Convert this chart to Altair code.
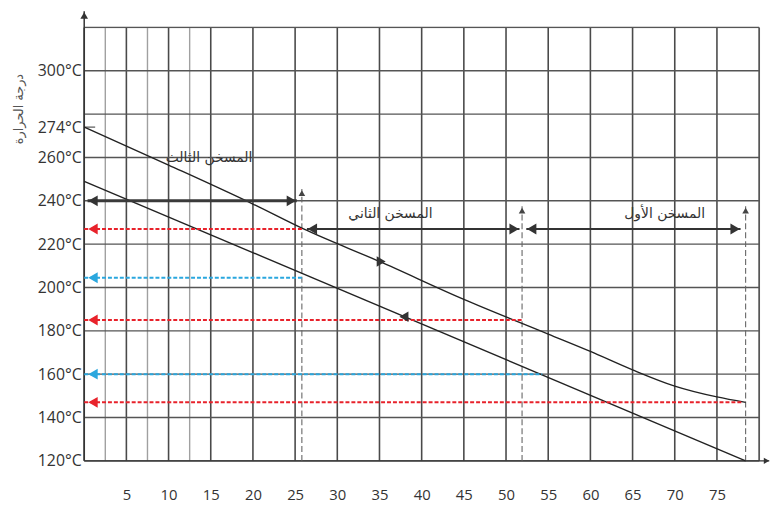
import altair as alt
import pandas as pd

# ---------------- data ----------------
x_major = [0, 5, 10, 15, 20, 25, 30, 35, 40, 45, 50, 55, 60, 65, 70, 75, 80]
x_minor = [2.5, 7.5, 12.5]
y_grid = [120, 140, 160, 180, 200, 220, 240, 260, 280, 300, 320]
x_labels = [5, 10, 15, 20, 25, 30, 35, 40, 45, 50, 55, 60, 65, 70, 75]
y_labels = [120, 140, 160, 180, 200, 220, 240, 260, 274, 300]

upper_x = [0, 10, 20, 26, 35, 45, 55, 60, 65, 70, 75, 78.4]
upper_T = [274, 256.5, 238.5, 227, 212, 194.5, 178.5, 170.5, 162, 154.5, 149.5, 147]
lower_x = [0, 78.4]
lower_T = [249, 120]

red_T = [227, 185, 147]
red_end = [25.8, 51.9, 78.0]
blue_T = [204.5, 160]
blue_end = [25.8, 54.3]

span_start = [0.4, 26.4, 52.4]
span_end = [25.2, 51.6, 77.8]
span_T = [240, 227, 227]
span_names = ["المسخن الثالث", "المسخن الثاني", "المسخن الأول"]
name_x = [14.8, 36.3, 68.8]
name_T = [259.5, 234, 234]

boundary_x = [25.8, 51.9, 78.4]
boundary_top = [245.5, 237.5, 237.5]

flow_x = [35.2, 37.9]
flow_T = [212, 186.5]

axis_top_T = 327.5
axis_right_x = 81.2
y_title = "درجة الحرارة"

# ---------------- layout helpers ----------------
W, H = 682, 438
PX_X = W / 80.0
PX_Y = H / 200.0
HEAD = 120
R = (HEAD ** 0.5) / 2  # half-size of a symbol in pixels
DX = R / PX_X
DY = R / PX_Y

XS = alt.Scale(domain=[0, 80], nice=False, zero=False)
YS = alt.Scale(domain=[120, 320], nice=False, zero=False)
XA = alt.Axis(values=x_labels, title="", grid=False, ticks=False, domain=False,
              labelPadding=27, labelFontSize=15, labelColor="#333",
              labelFont="Open Sans")
YA = alt.Axis(values=y_labels, title=y_title, labelExpr="datum.value + '°C'",
              grid=False, ticks=False, domain=False, labelPadding=3,
              labelFontSize=16, labelColor="#333", labelFont="Open Sans",
              titleFont="DejaVu Sans", titleFontSize=13, titleFontWeight="normal",
              titleColor="#555", titleX=-66, titleY=82, titleAngle=270,
              titleAlign="center", titleBaseline="middle")


def X(f):
    return alt.X(f, type="quantitative", scale=XS, axis=XA)


def Y(f):
    return alt.Y(f, type="quantitative", scale=YS, axis=YA)


ymin, ymax = min(y_grid), max(y_grid)
xmin, xmax = min(x_major), max(x_major)

# grid
df_vmaj = pd.DataFrame({"x": x_major, "y1": ymin, "y2": ymax})
df_vmin = pd.DataFrame({"x": x_minor, "y1": ymin, "y2": ymax})
df_h = pd.DataFrame({"y": y_grid, "x1": xmin, "x2": xmax})

vmaj = alt.Chart(df_vmaj).mark_rule(color="#4a4a4a", strokeWidth=1.6).encode(
    x=X("x"), y=Y("y1"), y2="y2")
vmin = alt.Chart(df_vmin).mark_rule(color="#a0a0a0", strokeWidth=1.4).encode(
    x=X("x"), y=Y("y1"), y2="y2")
hgrid = alt.Chart(df_h).mark_rule(color="#555", strokeWidth=1.4).encode(
    x=X("x1"), x2="x2", y=Y("y"))

# axis arrows
df_yax = pd.DataFrame({"x": [xmin], "y1": [ymin], "y2": [axis_top_T]})
df_xax = pd.DataFrame({"y": [ymin], "x1": [xmin], "x2": [axis_right_x]})
yax = alt.Chart(df_yax).mark_rule(color="#333", strokeWidth=1.5).encode(
    x=X("x"), y=Y("y1"), y2="y2")
xax = alt.Chart(df_xax).mark_rule(color="#333", strokeWidth=1.5).encode(
    x=X("x1"), x2="x2", y=Y("y"))
yax_head = alt.Chart(pd.DataFrame({"x": [xmin], "y": [axis_top_T - DY * 0.8]})).mark_point(
    shape="triangle-up", filled=True, color="#333", size=60, opacity=1).encode(x=X("x"), y=Y("y"))
xax_head = alt.Chart(pd.DataFrame({"x": [axis_right_x - DX * 0.5], "y": [ymin]})).mark_point(
    shape="triangle-right", filled=True, color="#333", size=40, opacity=1).encode(x=X("x"), y=Y("y"))

# 274 tick
tick274 = alt.Chart(pd.DataFrame({"y": [274], "x1": [xmin], "x2": [xmin + 1.3]})).mark_rule(
    color="#555", strokeWidth=1.2).encode(x=X("x1"), x2="x2", y=Y("y"))

# boundaries (dashed verticals)
df_b = pd.DataFrame({"x": boundary_x, "y1": ymin, "y2": boundary_top})
bnd = alt.Chart(df_b).mark_rule(color="#666", strokeWidth=1.1, strokeDash=[6, 3]).encode(
    x=X("x"), y=Y("y1"), y2="y2")
df_bh = pd.DataFrame({"x": boundary_x, "y": [t - DY * 0.8 for t in boundary_top]})
bnd_head = alt.Chart(df_bh).mark_point(shape="triangle-up", filled=True, color="#444",
                                       size=45, opacity=1).encode(x=X("x"), y=Y("y"))

# curves
upper = alt.Chart(pd.DataFrame({"x": upper_x, "t": upper_T})).mark_line(
    color="#222", strokeWidth=1.4, interpolate="monotone").encode(x=X("x"), y=Y("t"))
lower = alt.Chart(pd.DataFrame({"x": lower_x, "t": lower_T})).mark_line(
    color="#222", strokeWidth=1.4).encode(x=X("x"), y=Y("t"))

# coloured dashed arrows
df_red = pd.DataFrame({"t": red_T, "x1": xmin, "x2": red_end})
df_blue = pd.DataFrame({"t": blue_T, "x1": xmin, "x2": blue_end})
red = alt.Chart(df_red).mark_rule(color="#e8222b", strokeWidth=2, strokeDash=[4, 2]).encode(
    x=X("x1"), x2="x2", y=Y("t"))
blue = alt.Chart(df_blue).mark_rule(color="#2aa7de", strokeWidth=2, strokeDash=[4, 2]).encode(
    x=X("x1"), x2="x2", y=Y("t"))
red_head = alt.Chart(pd.DataFrame({"x": xmin + 0.4 + DX, "t": red_T})).mark_point(
    shape="triangle-left", filled=True, color="#e8222b", size=HEAD, opacity=1).encode(
    x=X("x"), y=Y("t"))
blue_head = alt.Chart(pd.DataFrame({"x": xmin + 0.4 + DX, "t": blue_T})).mark_point(
    shape="triangle-left", filled=True, color="#2aa7de", size=HEAD, opacity=1).encode(
    x=X("x"), y=Y("t"))

# heater spans
df_span = pd.DataFrame({"x1": span_start, "x2": span_end, "t": span_T})
span_a = alt.Chart(df_span.iloc[:1]).mark_rule(color="#3a3a3a", strokeWidth=3).encode(
    x=X("x1"), x2="x2", y=Y("t"))
span_b = alt.Chart(df_span.iloc[1:]).mark_rule(color="#333", strokeWidth=2).encode(
    x=X("x1"), x2="x2", y=Y("t"))
df_sl = pd.DataFrame({"x": [s + DX for s in span_start], "t": span_T})
df_sr = pd.DataFrame({"x": [e - DX for e in span_end], "t": span_T})
span_lh = alt.Chart(df_sl).mark_point(shape="triangle-left", filled=True, color="#333",
                                      size=HEAD, opacity=1).encode(x=X("x"), y=Y("t"))
span_rh = alt.Chart(df_sr).mark_point(shape="triangle-right", filled=True, color="#333",
                                      size=HEAD, opacity=1).encode(x=X("x"), y=Y("t"))

names = alt.Chart(pd.DataFrame({"x": name_x, "t": name_T, "name": span_names})).mark_text(
    font="DejaVu Sans", fontSize=14, color="#333", align="center", baseline="middle").encode(
    x=X("x"), y=Y("t"), text="name:N")

# flow direction markers on curves
flow_up = alt.Chart(pd.DataFrame({"x": flow_x[:1], "t": flow_T[:1]})).mark_point(
    shape="triangle-right", filled=True, color="#333", size=110, opacity=1).encode(
    x=X("x"), y=Y("t"))
flow_lo = alt.Chart(pd.DataFrame({"x": flow_x[1:], "t": flow_T[1:]})).mark_point(
    shape="triangle-left", filled=True, color="#333", size=110, opacity=1).encode(
    x=X("x"), y=Y("t"))

chart = alt.layer(
    vmin, vmaj, hgrid, tick274, yax, xax, bnd, upper, lower,
    red, blue, span_a, span_b, red_head, blue_head, span_lh, span_rh,
    names, flow_up, flow_lo, bnd_head, yax_head, xax_head,
).properties(
    width=W, height=H,
    padding={"left": 77, "top": 17, "right": 12, "bottom": 45},
    autosize=alt.AutoSizeParams(type="none"),
).configure_view(stroke=None).configure(background="white")

chart.save("out.html", embed_options={"renderer": "svg", "actions": False})
